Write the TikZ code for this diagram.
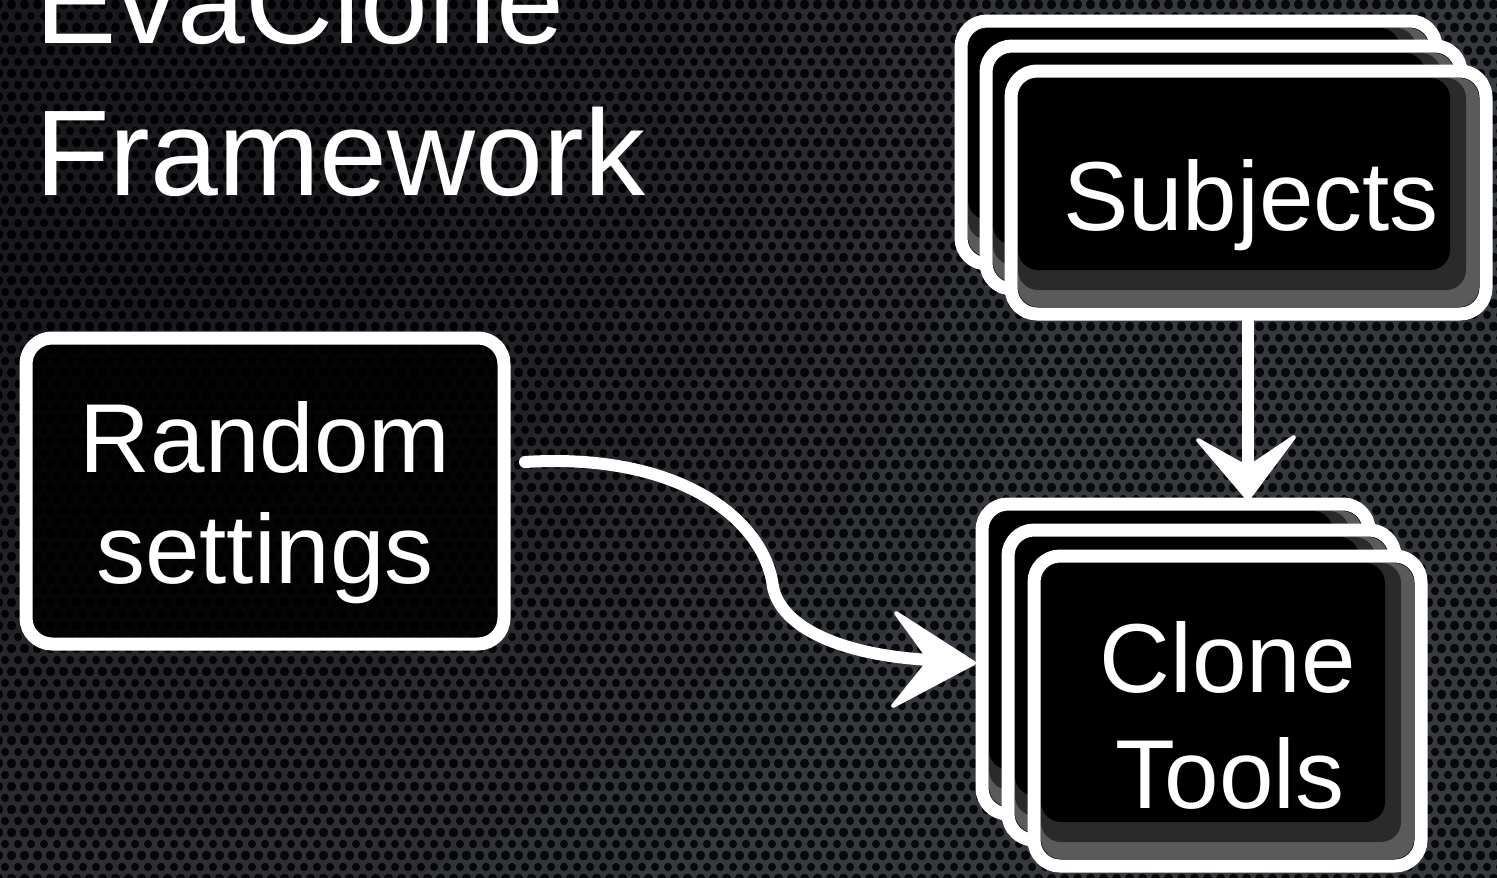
\documentclass[tikz,border=0pt]{standalone}
\usepackage{fontspec}
\setmainfont{Liberation Sans}
\usetikzlibrary{patterns}
\definecolor{bgbase}{RGB}{54,57,61}
\definecolor{bgdot}{RGB}{8,8,10}
\definecolor{shadowA}{RGB}{90,90,90}
\definecolor{shadowB}{RGB}{42,42,42}
\pgfdeclarepatternformonly{hexdots}{\pgfpointorigin}{\pgfqpoint{13pt}{22.52pt}}{\pgfqpoint{13pt}{22.52pt}}{%
  \pgfpathcircle{\pgfqpoint{0pt}{0pt}}{4.3pt}%
  \pgfpathcircle{\pgfqpoint{13pt}{0pt}}{4.3pt}%
  \pgfpathcircle{\pgfqpoint{0pt}{22.52pt}}{4.3pt}%
  \pgfpathcircle{\pgfqpoint{13pt}{22.52pt}}{4.3pt}%
  \pgfpathcircle{\pgfqpoint{6.5pt}{11.26pt}}{4.3pt}%
  \pgfusepath{fill}%
}
\tikzset{
  chalkbox/.style={draw=white, fill=black, line width=13pt, rounded corners=26pt,
    inner sep=0pt, outer sep=0pt, rectangle},
  lbl/.style={text=white, inner sep=0pt, font=\fontsize{98}{110}\selectfont},
  ttl/.style={text=white, inner sep=0pt, font=\fontsize{122}{140}\selectfont, anchor=base west},
  chalkline/.style={draw=white, line width=12pt, line cap=round},
  chalkhead/.style={fill=white, draw=white, line width=4pt, line join=round}
}
\newcommand{\stackshadow}[1]{%
  \fill[shadowA, rounded corners=20pt] ([shift={(7,7)}]#1.north west) rectangle ([shift={(-7,-7)}]#1.south east);
  \fill[shadowB, rounded corners=20pt] ([shift={(7,7)}]#1.north west) rectangle ([shift={(-20,-24)}]#1.south east);
  \fill[black, rounded corners=20pt] ([shift={(7,7)}]#1.north west) rectangle ([shift={(-36,-44)}]#1.south east);
}
\begin{document}
\begin{tikzpicture}[x=1pt, y=-1pt]
\useasboundingbox (0,0) rectangle (1497,878);
% background
\fill[bgbase] (0,0) rectangle (1497,878);
\fill[pattern=hexdots, pattern color=bgdot] (0,0) rectangle (1497,878);
\foreach \r in {1000,900,...,300} { \fill[black, fill opacity=0.08] (80,40) circle (\r); }

% title
\node[ttl] (t1) at (35,43) {EvaClone};
\node[ttl] (t2) at (35,195) {Framework};

% Random settings
\node[chalkbox, fill opacity=0.85, minimum width=478pt, minimum height=306pt] (rs) at (265,491) {};
\node[lbl, anchor=base] (rs1) at (265,472) {Random};
\node[lbl, anchor=base] (rs2) at (265,583) {settings};

% Subjects stack
\node[chalkbox, minimum width=475pt, minimum height=243pt] (s1) at (1198.5,142.5) {};
\stackshadow{s1}
\node[chalkbox, minimum width=475pt, minimum height=243pt] (s2) at (1223.5,167.5) {};
\stackshadow{s2}
\node[chalkbox, minimum width=475pt, minimum height=243pt] (s3) at (1248.5,192.5) {};
\stackshadow{s3}
\node[lbl, anchor=base] (st) at (1251,230) {Subjects};

% Clone tools stack
\node[chalkbox, minimum width=387pt, minimum height=310pt] (c1) at (1175.5,659) {};
\stackshadow{c1}
\node[chalkbox, minimum width=387pt, minimum height=310pt] (c2) at (1201.5,685) {};
\stackshadow{c2}
\node[chalkbox, minimum width=387pt, minimum height=310pt] (c3) at (1227.5,711) {};
\stackshadow{c3}
\node[lbl, anchor=base] (ct1) at (1228,692) {Clone};
\node[lbl, anchor=base] (ct2) at (1230,808) {Tools};

% vertical arrow Subjects -> Clone Tools
\coordinate (vtip) at (1248,499);
\coordinate (vin) at (1248,468);
\draw[chalkline] (s3.south -| vin) -- (vin);
\draw[chalkhead] (vtip) -- (1198,440) -- (vin) -- (1294,437) -- cycle;

% curved arrow Random settings -> Clone Tools
\coordinate (cs) at (525,462);
\coordinate (cm) at (773,587);
\coordinate (cin) at (930,660);
\coordinate (ctip) at (974,663);
\draw[chalkline] (cs) .. controls (680,452) and (765,520) .. (cm) .. controls (781,627) and (840,655) .. (cin);
\draw[chalkhead] (ctip) -- (896,613) -- (cin) -- (893,706) -- cycle;
\end{tikzpicture}
\end{document}
